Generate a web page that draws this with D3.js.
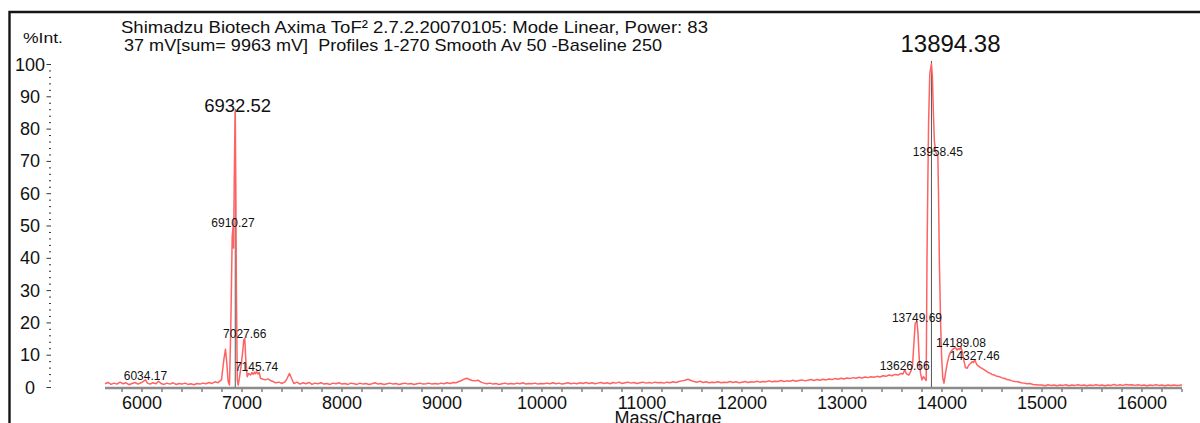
<!DOCTYPE html>
<html>
<head>
<meta charset="utf-8">
<script src="https://cdn.jsdelivr.net/npm/d3@7"></script>
<style>
  html, body { margin: 0; padding: 0; background: #fff; }
  svg { display: block; font-family: "Liberation Sans", Arial, sans-serif; }
</style>
</head>
<body>
<svg id="chart" width="1200" height="423"></svg>
<script>
// Acquisition header
const headerLines = [
  "Shimadzu Biotech Axima ToF\u00B2 2.7.2.20070105: Mode Linear, Power: 83",
  "37 mV[sum= 9963 mV]  Profiles 1-270 Smooth Av 50 -Baseline 250"
];
const yAxisTitle = "%Int.";
const xAxisTitle = "Mass/Charge";

// Axis tick labels
const xTickLabels = [6000, 7000, 8000, 9000, 10000, 11000, 12000, 13000, 14000, 15000, 16000];
const yTickLabels = [0, 10, 20, 30, 40, 50, 60, 70, 80, 90, 100];

// Spectrum: [m/z, relative intensity %]
const spectrum = [
  [5630,1.0],[5660,1.4],[5690,0.8],[5720,1.2],[5750,0.9],[5780,1.5],[5810,1.0],[5840,1.3],[5870,0.7],[5900,1.1],
  [5930,1.4],[5960,0.9],[5990,1.3],[6010,1.7],[6034.17,2.2],[6055,1.2],[6080,0.9],[6110,1.3],[6140,1.0],[6165,1.8],
  [6190,1.1],[6220,0.8],[6250,1.2],[6280,0.9],[6310,1.3],[6340,0.8],[6370,1.1],[6400,0.9],[6430,1.2],[6460,0.8],
  [6490,1.0],[6520,0.7],[6550,1.1],[6580,0.9],[6610,1.2],[6640,1.0],[6670,1.4],[6700,1.1],[6730,1.6],[6760,1.3],
  [6780,1.9],[6795,2.2],[6818,8.4],[6835,11.7],[6848,7.3],[6862,1.6],[6875,0.6],[6888,18.7],[6902,46.5],[6910.27,49.6],
  [6916,43.0],[6922,63.0],[6927,75.5],[6932.52,85.2],[6938,63.0],[6944,29.0],[6953,2.2],[6962,0.6],[6975,3.0],[6990,6.3],
  [7005,10.4],[7018,14.6],[7027.66,15.1],[7038,8.4],[7052,3.2],[7068,4.2],[7085,3.7],[7100,4.5],[7112,3.9],[7125,4.6],
  [7135,4.1],[7145.74,4.8],[7160,4.0],[7172,4.5],[7185,2.7],[7210,2.4],[7235,2.2],[7260,2.5],[7285,2.0],[7310,1.7],
  [7335,1.3],[7370,1.5],[7402,1.1],[7430,1.6],[7452,2.7],[7475,4.2],[7495,2.7],[7518,1.1],[7550,1.5],[7580,0.9],
  [7610,1.3],[7640,1.0],[7670,1.4],[7700,0.8],[7730,1.2],[7760,1.0],[7790,1.3],[7820,0.9],[7850,1.1],[7880,0.8],
  [7910,1.2],[7940,1.0],[7970,1.3],[8000,0.9],[8030,1.1],[8060,0.8],[8090,1.2],[8120,1.0],[8150,0.8],[8180,1.2],
  [8210,0.9],[8240,1.1],[8270,0.8],[8300,1.0],[8330,1.3],[8360,0.9],[8390,1.1],[8420,0.8],[8450,1.0],[8480,1.2],
  [8510,0.9],[8540,1.1],[8570,0.8],[8600,1.0],[8630,1.2],[8660,0.9],[8690,1.1],[8720,0.8],[8750,1.0],[8780,1.2],
  [8810,0.9],[8840,1.0],[8870,1.2],[8900,0.9],[8930,1.1],[8960,0.9],[8990,1.2],[9020,1.0],[9050,1.3],[9080,1.1],
  [9110,1.4],[9140,1.3],[9170,1.7],[9200,2.1],[9225,2.5],[9250,2.7],[9275,2.3],[9300,2.0],[9330,1.9],[9360,2.1],
  [9390,1.5],[9420,1.2],[9450,1.0],[9480,1.2],[9510,0.9],[9540,1.1],[9570,0.8],[9600,1.0],[9630,1.2],[9660,0.9],
  [9690,1.1],[9720,0.9],[9750,1.2],[9780,1.0],[9810,1.3],[9840,0.9],[9870,1.1],[9900,1.0],[9930,1.2],[9960,0.9],
  [9990,1.1],[10020,1.0],[10050,1.2],[10080,1.0],[10110,1.3],[10140,1.0],[10170,1.2],[10200,0.9],[10230,1.1],[10260,1.3],
  [10290,1.0],[10320,1.2],[10350,1.0],[10380,1.3],[10410,1.1],[10440,1.4],[10470,1.1],[10500,1.3],[10530,1.0],[10560,1.2],
  [10590,1.4],[10620,1.1],[10650,1.3],[10680,1.0],[10710,1.4],[10740,1.2],[10770,1.5],[10800,1.1],[10830,1.3],[10860,1.5],
  [10890,1.2],[10920,1.4],[10950,1.1],[10980,1.3],[11010,1.5],[11040,1.2],[11070,1.4],[11100,1.2],[11130,1.5],[11160,1.3],
  [11190,1.4],[11220,1.2],[11250,1.5],[11280,1.3],[11310,1.6],[11340,1.4],[11370,1.7],[11400,1.9],[11430,2.1],[11460,2.4],
  [11490,2.0],[11520,1.7],[11550,1.5],[11580,1.8],[11610,1.4],[11640,1.6],[11670,1.3],[11700,1.5],[11730,1.4],[11760,1.6],
  [11790,1.3],[11820,1.5],[11850,1.4],[11880,1.7],[11910,1.4],[11940,1.6],[11970,1.3],[12000,1.5],[12030,1.7],[12060,1.4],
  [12090,1.6],[12120,1.5],[12150,1.8],[12180,1.5],[12210,1.7],[12240,1.6],[12270,1.9],[12300,1.6],[12330,1.8],[12360,1.7],
  [12390,2.0],[12420,1.7],[12450,1.9],[12480,1.8],[12510,2.1],[12540,1.8],[12570,2.0],[12600,2.2],[12630,1.9],[12660,2.1],
  [12690,2.3],[12720,2.0],[12750,2.3],[12780,2.1],[12810,2.4],[12840,2.2],[12870,2.5],[12900,2.3],[12930,2.6],[12960,2.4],
  [12990,2.7],[13020,2.5],[13050,2.8],[13080,2.6],[13110,2.9],[13140,2.7],[13170,3.0],[13200,2.8],[13230,3.1],[13260,2.9],
  [13290,3.2],[13320,3.0],[13350,3.3],[13380,3.1],[13410,3.5],[13440,3.3],[13470,3.7],[13500,3.5],[13530,3.9],[13560,3.7],
  [13590,4.2],[13610,4.0],[13626.66,5.3],[13645,4.1],[13668,3.7],[13690,5.0],[13705,6.5],[13720,14.0],[13732,19.7],[13749.69,20.2],
  [13760,16.6],[13772,9.0],[13785,4.2],[13800,2.2],[13815,3.2],[13830,2.5],[13842,2.0],[13850,40.0],[13858,62.0],[13866,82.0],
  [13878,97.0],[13894.38,100],[13904,96.0],[13914,84.5],[13924,76.0],[13936,73.0],[13947,72.0],[13958.45,71.5],[13965,60.0],[13974,38.4],
  [13986,19.8],[13996,9.4],[14008,2.7],[14020,1.2],[14035,4.2],[14050,7.0],[14068,9.4],[14085,10.8],[14102,11.5],[14120,12.0],
  [14135,12.2],[14150,11.4],[14165,11.9],[14178,11.6],[14189.08,12.5],[14205,10.5],[14220,8.0],[14235,6.0],[14250,5.8],[14268,6.8],
  [14285,7.3],[14300,7.8],[14315,7.6],[14327.46,8.4],[14340,7.5],[14352,6.8],[14370,6.4],[14385,6.0],[14400,5.8],[14420,5.4],
  [14440,5.0],[14460,4.5],[14480,4.3],[14500,3.9],[14525,3.7],[14550,3.3],[14575,3.2],[14600,2.8],[14625,2.7],[14650,2.3],
  [14675,2.2],[14700,1.9],[14730,1.7],[14760,1.6],[14790,1.3],[14820,1.2],[14850,1.0],[14880,1.1],[14910,0.8],[14940,0.7],
  [14970,0.6],[15000,0.6],[15030,0.4],[15060,0.7],[15090,0.5],[15120,0.6],[15150,0.4],[15180,0.6],[15210,0.5],[15240,0.7],
  [15270,0.4],[15300,0.6],[15330,0.5],[15360,0.7],[15390,0.5],[15420,0.6],[15450,0.4],[15480,0.6],[15510,0.5],[15540,0.7],
  [15570,0.5],[15600,0.6],[15630,0.4],[15660,0.6],[15690,0.5],[15720,0.8],[15750,0.5],[15780,0.7],[15810,0.5],[15840,0.8],
  [15870,0.6],[15900,0.7],[15930,0.5],[15960,0.7],[15990,0.5],[16020,0.6],[16050,0.4],[16080,0.6],[16110,0.5],[16140,0.7],
  [16170,0.5],[16200,0.6],[16230,0.4],[16260,0.6],[16290,0.5],[16320,0.6],[16350,0.5],[16400,0.6]
];

// Annotated peak centroids (m/z)
const peakMasses = [6034.17, 6910.27, 6932.52, 7027.66, 7145.74, 13626.66, 13749.69, 13894.38, 13958.45, 14189.08, 14327.46];

const svg = d3.select("#chart");
const W = 1200, H = 423;

const x = d3.scaleLinear().domain([5630, 16400]).range([105, 1182]);
const y = d3.scaleLinear().domain([0, 100]).range([387, 64]);

// Window frame
svg.append("path")
  .attr("d", `M9.5,${H} L9.5,12 L${W},12`)
  .attr("fill", "none").attr("stroke", "#151515").attr("stroke-width", 2.4);

// Header text
svg.append("text").attr("x", 121).attr("y", 32.5)
  .attr("font-size", 17).attr("fill", "#111")
  .attr("textLength", 587).attr("lengthAdjust", "spacingAndGlyphs")
  .style("white-space", "pre").text(headerLines[0]);
svg.append("text").attr("x", 124).attr("y", 50.5)
  .attr("font-size", 17).attr("fill", "#111")
  .attr("textLength", 538).attr("lengthAdjust", "spacingAndGlyphs")
  .style("white-space", "pre").text(headerLines[1]);

// Y axis title
svg.append("text").attr("x", 23).attr("y", 42.5)
  .attr("font-size", 14.5).attr("fill", "#111")
  .attr("textLength", 40).attr("lengthAdjust", "spacingAndGlyphs")
  .text(yAxisTitle);

// Y axis: dotted tick column, minor every 2 %, labelled every 10 %
const yAxisG = svg.append("g");
yAxisG.selectAll("line.minor")
  .data(d3.range(0, 101, 2))
  .join("line")
  .attr("x1", d => d % 10 === 0 ? 46.5 : 49)
  .attr("x2", 51)
  .attr("y1", d => y(d) + 0.5).attr("y2", d => y(d) + 0.5)
  .attr("stroke", "#333").attr("stroke-width", 1);
yAxisG.selectAll("text")
  .data(yTickLabels)
  .join("text")
  .attr("x", 30).attr("y", d => y(d) + 6.5)
  .attr("text-anchor", "middle")
  .attr("font-size", 18).attr("fill", "#111")
  .text(d => d);

// X axis: grey baseline with small ticks
const xAxisG = svg.append("g");
xAxisG.append("line")
  .attr("x1", x.range()[0]).attr("x2", x.range()[1])
  .attr("y1", y(0) + 1).attr("y2", y(0) + 1)
  .attr("stroke", "#8c8c8c").attr("stroke-width", 2.4);
xAxisG.selectAll("line.tick")
  .data(d3.range(5800, 16401, 200))
  .join("line")
  .attr("class", "tick")
  .attr("x1", d => x(d)).attr("x2", d => x(d))
  .attr("y1", y(0) + 2).attr("y2", y(0) + 5)
  .attr("stroke", "#444").attr("stroke-width", 1);
xAxisG.selectAll("text")
  .data(xTickLabels)
  .join("text")
  .attr("x", d => x(d)).attr("y", 409)
  .attr("text-anchor", "middle")
  .attr("font-size", 18).attr("fill", "#111")
  .text(d => d);
svg.append("text").attr("x", 668).attr("y", 424)
  .attr("text-anchor", "middle")
  .attr("font-size", 18).attr("fill", "#111")
  .text(xAxisTitle);

// Peak intensities come straight from the spectrum
const intensityAt = m => spectrum.find(p => p[0] === m)[1];
const peaks = peakMasses.map(m => ({ mass: m, value: intensityAt(m) }));
const ranked = peaks.slice().sort((a, b) => b.value - a.value);
const basePeak = ranked[0], secondPeak = ranked[1];

// Centroid markers on the two strongest peaks
svg.append("g").selectAll("line")
  .data([basePeak, secondPeak])
  .join("line")
  .attr("x1", d => x(d.mass)).attr("x2", d => x(d.mass))
  .attr("y1", d => y(d.value) - 3).attr("y2", y(0))
  .attr("stroke", "#555").attr("stroke-width", 1);

// Spectrum trace
const line = d3.line().x(d => x(d[0])).y(d => y(d[1]));
svg.append("path")
  .datum(spectrum)
  .attr("d", line)
  .attr("fill", "none")
  .attr("stroke", "#ff6262")
  .attr("stroke-width", 1.5)
  .attr("stroke-linejoin", "round");

// Peak labels
const labelG = svg.append("g");
labelG.selectAll("text")
  .data(peaks)
  .join("text")
  .attr("x", d => (d === basePeak || d === secondPeak) ? x(d.mass) - 31 : x(d.mass))
  .attr("y", d => d === basePeak ? y(100) - 12 : y(d.value))
  .attr("text-anchor", d => (d === basePeak || d === secondPeak) ? "start" : "middle")
  .attr("font-size", d => d === basePeak ? 24 : (d === secondPeak ? 18.5 : 12))
  .attr("fill", "#111")
  .text(d => d.mass.toFixed(2));
</script>
</body>
</html>
